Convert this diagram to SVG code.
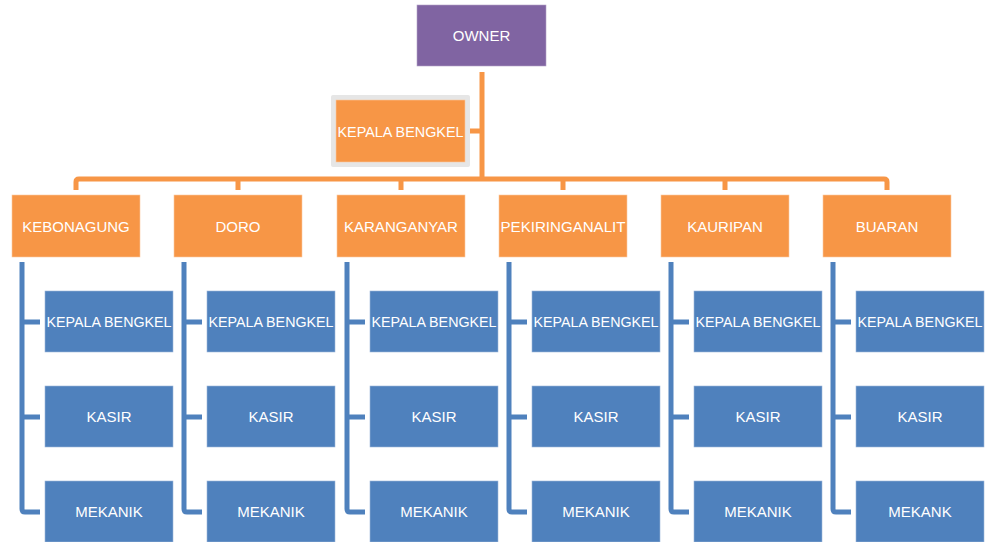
<svg xmlns="http://www.w3.org/2000/svg" width="986" height="542" viewBox="0 0 986 542">
<style>
.o{fill:#F79646;stroke:#FBC9A0;stroke-width:0.6}
.b{fill:#4F81BD;stroke:#9DB7DA;stroke-width:0.6}
.p{fill:#8064A2;stroke:#B3A2C7;stroke-width:0.6}
.fr{fill:#E6E6E6}
text{font-family:"Liberation Sans",Arial,sans-serif;font-size:15px;fill:#FFFFFF;text-anchor:middle;dominant-baseline:central}
.oc{fill:none;stroke:#F79646;stroke-width:5;stroke-linejoin:round}
.bc{fill:none;stroke:#4F81BD;stroke-width:5;stroke-linejoin:round}
</style>
<g id="connectors">
<path class="oc" d="M482,72 V179 M465,131 H482"/>
<path class="oc" d="M76,190 V182 Q76,179 79,179 H884 Q887,179 887,182 V190 M238,179 V190 M401,179 V190 M563,179 V190 M725,179 V190"/>
<path class="bc" d="M22,262 V509 Q22,512 25,512 H40 M22,322 H40 M22,417 H40"/>
<path class="bc" d="M184,262 V509 Q184,512 187,512 H202 M184,322 H202 M184,417 H202"/>
<path class="bc" d="M347,262 V509 Q347,512 350,512 H365 M347,322 H365 M347,417 H365"/>
<path class="bc" d="M509,262 V509 Q509,512 512,512 H527 M509,322 H527 M509,417 H527"/>
<path class="bc" d="M671,262 V509 Q671,512 674,512 H689 M671,322 H689 M671,417 H689"/>
<path class="bc" d="M833,262 V509 Q833,512 836,512 H851 M833,322 H851 M833,417 H851"/>
</g>
<g id="owner"><rect class="p" x="417" y="5" width="129" height="61"/><text x="481.5" y="35.5">OWNER</text></g>
<g id="kepala-bengkel-top"><rect class="fr" x="331" y="95" width="139" height="72" rx="2"/><rect class="o" x="336" y="100" width="129" height="62"/><text x="400.5" y="131" textLength="126" lengthAdjust="spacingAndGlyphs">KEPALA BENGKEL</text></g>
<g id="kebonagung"><rect class="o" x="12" y="195" width="128" height="62"/><text x="76" y="226">KEBONAGUNG</text></g>
<g id="doro"><rect class="o" x="174" y="195" width="128" height="62"/><text x="238" y="226">DORO</text></g>
<g id="karanganyar"><rect class="o" x="337" y="195" width="128" height="62"/><text x="401" y="226">KARANGANYAR</text></g>
<g id="pekiringanalit"><rect class="o" x="499" y="195" width="128" height="62"/><text x="563" y="226" textLength="125" lengthAdjust="spacingAndGlyphs">PEKIRINGANALIT</text></g>
<g id="kauripan"><rect class="o" x="661" y="195" width="128" height="62"/><text x="725" y="226">KAURIPAN</text></g>
<g id="buaran"><rect class="o" x="823" y="195" width="128" height="62"/><text x="887" y="226">BUARAN</text></g>
<g id="kb1"><rect class="b" x="45" y="291" width="128" height="61"/><text x="109" y="321.5" textLength="125" lengthAdjust="spacingAndGlyphs">KEPALA BENGKEL</text></g>
<g id="ks1"><rect class="b" x="45" y="386" width="128" height="61"/><text x="109" y="416.5">KASIR</text></g>
<g id="mk1"><rect class="b" x="45" y="481" width="128" height="61"/><text x="109" y="511.5">MEKANIK</text></g>
<g id="kb2"><rect class="b" x="207" y="291" width="128" height="61"/><text x="271" y="321.5" textLength="125" lengthAdjust="spacingAndGlyphs">KEPALA BENGKEL</text></g>
<g id="ks2"><rect class="b" x="207" y="386" width="128" height="61"/><text x="271" y="416.5">KASIR</text></g>
<g id="mk2"><rect class="b" x="207" y="481" width="128" height="61"/><text x="271" y="511.5">MEKANIK</text></g>
<g id="kb3"><rect class="b" x="370" y="291" width="128" height="61"/><text x="434" y="321.5" textLength="125" lengthAdjust="spacingAndGlyphs">KEPALA BENGKEL</text></g>
<g id="ks3"><rect class="b" x="370" y="386" width="128" height="61"/><text x="434" y="416.5">KASIR</text></g>
<g id="mk3"><rect class="b" x="370" y="481" width="128" height="61"/><text x="434" y="511.5">MEKANIK</text></g>
<g id="kb4"><rect class="b" x="532" y="291" width="128" height="61"/><text x="596" y="321.5" textLength="125" lengthAdjust="spacingAndGlyphs">KEPALA BENGKEL</text></g>
<g id="ks4"><rect class="b" x="532" y="386" width="128" height="61"/><text x="596" y="416.5">KASIR</text></g>
<g id="mk4"><rect class="b" x="532" y="481" width="128" height="61"/><text x="596" y="511.5">MEKANIK</text></g>
<g id="kb5"><rect class="b" x="694" y="291" width="128" height="61"/><text x="758" y="321.5" textLength="125" lengthAdjust="spacingAndGlyphs">KEPALA BENGKEL</text></g>
<g id="ks5"><rect class="b" x="694" y="386" width="128" height="61"/><text x="758" y="416.5">KASIR</text></g>
<g id="mk5"><rect class="b" x="694" y="481" width="128" height="61"/><text x="758" y="511.5">MEKANIK</text></g>
<g id="kb6"><rect class="b" x="856" y="291" width="128" height="61"/><text x="920" y="321.5" textLength="125" lengthAdjust="spacingAndGlyphs">KEPALA BENGKEL</text></g>
<g id="ks6"><rect class="b" x="856" y="386" width="128" height="61"/><text x="920" y="416.5">KASIR</text></g>
<g id="mk6"><rect class="b" x="856" y="481" width="128" height="61"/><text x="920" y="511.5">MEKANK</text></g>
</svg>
